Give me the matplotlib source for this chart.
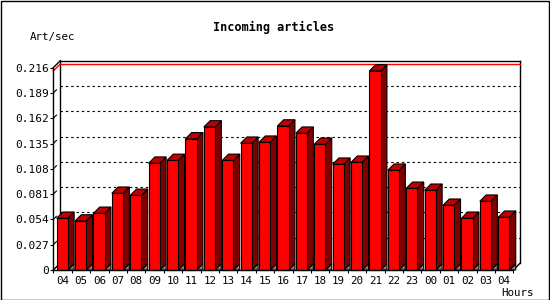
"""
Incoming articles per hour - 3D bar chart
"""

# =========================
# Imports
# =========================
import matplotlib
matplotlib.use("Agg")
import matplotlib.pyplot as plt
from matplotlib.patches import Polygon, Rectangle


# =========================
# Data
# =========================
hours = ["04", "05", "06", "07", "08", "09", "10", "11", "12", "13",
         "14", "15", "16", "17", "18", "19", "20", "21", "22", "23",
         "00", "01", "02", "03", "04"]
art_per_sec = [0.0552, 0.0523, 0.0605, 0.0819, 0.0797, 0.1140, 0.1170,
               0.1400, 0.1527, 0.1170, 0.1353, 0.1364, 0.1537, 0.1460,
               0.1342, 0.1129, 0.1150, 0.2125, 0.1065, 0.0872, 0.0851,
               0.0691, 0.0552, 0.0734, 0.0563]
y_ticks = [0, 0.027, 0.054, 0.081, 0.108, 0.135, 0.162, 0.189, 0.216]
y_labels = ["0", "0.027", "0.054", "0.081", "0.108", "0.135", "0.162",
            "0.189", "0.216"]


# =========================
# Figure setup
# =========================
W, H = 550, 300
fig = plt.figure(figsize=(W / 100, H / 100), dpi=100)
fig.patch.set_facecolor("white")

# front plot area in pixels
px_left, px_right, px_bottom, px_top = 53.3, 513.3, 270.0, 67.7
ax = fig.add_axes([px_left / W, 1 - px_bottom / H,
                   (px_right - px_left) / W, (px_bottom - px_top) / H])

n = len(hours)
ymax = y_ticks[-1]
ax.set_xlim(0, n)
ax.set_ylim(0, ymax)
ax.set_facecolor("none")

# pixel -> data conversions for the 3D depth
sx = n / (px_right - px_left)
sy = ymax / (px_bottom - px_top)
dx, dy = 7.0 * sx, 7.0 * sy        # plot depth
bdx, bdy = 6.3 * sx, 6.3 * sy      # bar depth

mono = "DejaVu Sans Mono"
lw = 0.8

# =========================
# Back plane, grid and frame
# =========================
for t in y_ticks[1:-1]:
    ax.plot([dx, n + dx], [t + dy, t + dy], color="black", lw=lw,
            linestyle=(0, (2.2, 2.6)), zorder=1, clip_on=False)
    # short diagonal tick toward the back plane
    ax.plot([0.05 * dx, 0.45 * dx], [t + 0.05 * dy, t + 0.45 * dy],
            color="black", lw=lw, zorder=1, clip_on=False)

frame = dict(color="black", lw=1.0, zorder=2, clip_on=False)
ax.plot([dx, n + dx], [ymax + dy, ymax + dy], **frame)
ax.plot([n + dx, n + dx], [dy, ymax + dy], **frame)
ax.plot([dx, dx], [dy, ymax + dy], **frame)
ax.plot([0, dx], [ymax, ymax + dy], **frame)
ax.plot([n, n + dx], [0, dy], **frame)
ax.plot([0, dx], [0, dy], **frame)

# max value line
vmax = max(art_per_sec)
ax.plot([dx, n + dx], [vmax + dy, vmax + dy], color="red", lw=1.0,
        zorder=2, clip_on=False)
ax.plot([0, dx], [vmax, vmax + dy], color="red", lw=1.0,
        zorder=2, clip_on=False)


# =========================
# Bars
# =========================
front_off, front_w = 0.18, 0.61
for i, v in enumerate(art_per_sec):
    l = i + front_off
    r = l + front_w
    parts = [
        ([(r, 0), (r + bdx, bdy), (r + bdx, 0)], "#808080"),
        ([(r, 0), (r + bdx, bdy), (r + bdx, v + bdy), (r, v)], "#800000"),
        ([(l, v), (r, v), (r + bdx, v + bdy), (l + bdx, v + bdy)], "#c00000"),
        ([(l, 0), (r, 0), (r, v), (l, v)], "#ff0000"),
    ]
    for pts, col in parts:
        ax.add_patch(Polygon(pts, closed=True, facecolor=col,
                             edgecolor="black", lw=lw, zorder=3,
                             clip_on=False))


# =========================
# Axes, ticks, labels
# =========================
for s in ["top", "right"]:
    ax.spines[s].set_visible(False)
for s in ["left", "bottom"]:
    ax.spines[s].set_linewidth(1.0)
    ax.spines[s].set_zorder(5)

ax.set_yticks(y_ticks)
ax.set_yticklabels(y_labels, fontfamily=mono, fontsize=8)
ax.tick_params(axis="y", direction="out", length=2.4, width=lw, pad=0.6)

ax.set_xticks([i + 0.5 for i in range(n)])
ax.set_xticklabels(hours, fontfamily=mono, fontsize=7.8)
ax.set_xticks(range(n + 1), minor=True)
ax.tick_params(axis="x", which="major", length=0, pad=4.5)
ax.tick_params(axis="x", which="minor", direction="out", length=2.4,
               width=lw)

fig.text(273.5 / W, 1 - 27 / H, "Incoming articles", ha="center",
         va="center", fontfamily=mono, fontweight="bold", fontsize=8.6)
fig.text(30 / W, 1 - 37 / H, "Art/sec", ha="left", va="center",
         fontfamily=mono, fontsize=7.8)
fig.text(534 / W, 1 - 293.5 / H, "Hours", ha="right", va="center",
         fontfamily=mono, fontsize=7.8)

# image border
fig.patches.append(Rectangle((0.5 / W, 0.5 / H), 1 - 1.5 / W, 1 - 1.5 / H,
                             transform=fig.transFigure, fill=False,
                             edgecolor="black", lw=1.0))

plt.savefig("out.png", dpi=100)
